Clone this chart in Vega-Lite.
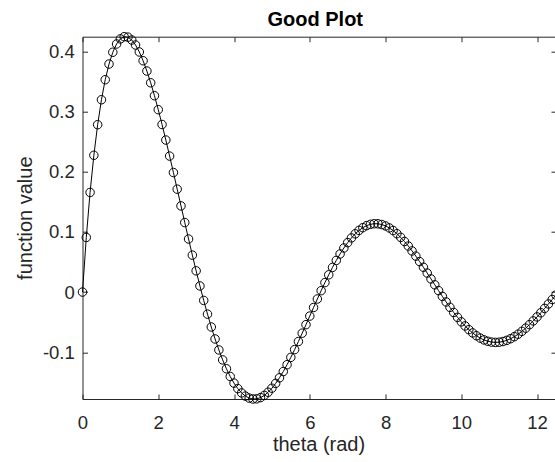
{
  "$schema": "https://vega.github.io/schema/vega-lite/v6.json",
  "autosize": "none",
  "width": 473.5,
  "height": 362.3,
  "padding": {"left": 82.5, "top": 36.7, "right": 0, "bottom": 63},
  "background": "white",
  "title": {"text": "Good Plot", "font": "Liberation Sans", "fontSize": 20, "fontWeight": "bold", "color": "#000000", "baseline": "alphabetic", "offset": -16, "dx": -4},
  "config": {
    "view": {"stroke": null},
    "axis": {
      "grid": false,
      "domainColor": "#262626",
      "domainWidth": 1,
      "tickColor": "#262626",
      "tickWidth": 1,
      "tickSize": -5,
      "labelFont": "Liberation Sans",
      "labelFontSize": 18.5,
      "labelColor": "#262626",
      "titleFont": "Liberation Sans",
      "titleFontSize": 20,
      "titleFontWeight": "normal",
      "titleColor": "#262626"
    }
  },
  "data": {"values": [
    {"theta": 0.0, "value": 0},
    {"theta": 0.1, "value": 0.09076},
    {"theta": 0.2, "value": 0.16556},
    {"theta": 0.3, "value": 0.22732},
    {"theta": 0.4, "value": 0.27816},
    {"theta": 0.5, "value": 0.31962},
    {"theta": 0.6, "value": 0.35290},
    {"theta": 0.7, "value": 0.37895},
    {"theta": 0.8, "value": 0.39853},
    {"theta": 0.9, "value": 0.41228},
    {"theta": 1.0, "value": 0.42074},
    {"theta": 1.1, "value": 0.42439},
    {"theta": 1.2, "value": 0.42365},
    {"theta": 1.3, "value": 0.41894},
    {"theta": 1.4, "value": 0.41060},
    {"theta": 1.5, "value": 0.39900},
    {"theta": 1.6, "value": 0.38445},
    {"theta": 1.7, "value": 0.36728},
    {"theta": 1.8, "value": 0.34780},
    {"theta": 1.9, "value": 0.32631},
    {"theta": 2.0, "value": 0.30310},
    {"theta": 2.1, "value": 0.27846},
    {"theta": 2.2, "value": 0.25266},
    {"theta": 2.3, "value": 0.22597},
    {"theta": 2.4, "value": 0.19866},
    {"theta": 2.5, "value": 0.17099},
    {"theta": 2.6, "value": 0.14319},
    {"theta": 2.7, "value": 0.11551},
    {"theta": 2.8, "value": 0.08815},
    {"theta": 2.9, "value": 0.06135},
    {"theta": 3.0, "value": 0.03528},
    {"theta": 3.1, "value": 0.01014},
    {"theta": 3.2, "value": -0.01390},
    {"theta": 3.3, "value": -0.03669},
    {"theta": 3.4, "value": -0.05808},
    {"theta": 3.5, "value": -0.07795},
    {"theta": 3.6, "value": -0.09620},
    {"theta": 3.7, "value": -0.11273},
    {"theta": 3.8, "value": -0.12747},
    {"theta": 3.9, "value": -0.14036},
    {"theta": 4.0, "value": -0.15136},
    {"theta": 4.1, "value": -0.16045},
    {"theta": 4.2, "value": -0.16761},
    {"theta": 4.3, "value": -0.17286},
    {"theta": 4.4, "value": -0.17622},
    {"theta": 4.5, "value": -0.17773},
    {"theta": 4.6, "value": -0.17744},
    {"theta": 4.7, "value": -0.17542},
    {"theta": 4.8, "value": -0.17175},
    {"theta": 4.9, "value": -0.16652},
    {"theta": 5.0, "value": -0.15982},
    {"theta": 5.1, "value": -0.15177},
    {"theta": 5.2, "value": -0.14249},
    {"theta": 5.3, "value": -0.13211},
    {"theta": 5.4, "value": -0.12074},
    {"theta": 5.5, "value": -0.10854},
    {"theta": 5.6, "value": -0.09565},
    {"theta": 5.7, "value": -0.08219},
    {"theta": 5.8, "value": -0.06832},
    {"theta": 5.9, "value": -0.05419},
    {"theta": 6.0, "value": -0.03992},
    {"theta": 6.1, "value": -0.02566},
    {"theta": 6.2, "value": -0.01154},
    {"theta": 6.3, "value": 0.00230},
    {"theta": 6.4, "value": 0.01575},
    {"theta": 6.5, "value": 0.02868},
    {"theta": 6.6, "value": 0.04099},
    {"theta": 6.7, "value": 0.05258},
    {"theta": 6.8, "value": 0.06335},
    {"theta": 6.9, "value": 0.07322},
    {"theta": 7.0, "value": 0.08212},
    {"theta": 7.1, "value": 0.09000},
    {"theta": 7.2, "value": 0.09679},
    {"theta": 7.3, "value": 0.10246},
    {"theta": 7.4, "value": 0.10699},
    {"theta": 7.5, "value": 0.11035},
    {"theta": 7.6, "value": 0.11255},
    {"theta": 7.7, "value": 0.11358},
    {"theta": 7.8, "value": 0.11347},
    {"theta": 7.9, "value": 0.11224},
    {"theta": 8.0, "value": 0.10993},
    {"theta": 8.1, "value": 0.10658},
    {"theta": 8.2, "value": 0.10225},
    {"theta": 8.3, "value": 0.09701},
    {"theta": 8.4, "value": 0.09091},
    {"theta": 8.5, "value": 0.08405},
    {"theta": 8.6, "value": 0.07650},
    {"theta": 8.7, "value": 0.06835},
    {"theta": 8.8, "value": 0.05968},
    {"theta": 8.9, "value": 0.05061},
    {"theta": 9.0, "value": 0.04121},
    {"theta": 9.1, "value": 0.03159},
    {"theta": 9.2, "value": 0.02185},
    {"theta": 9.3, "value": 0.01208},
    {"theta": 9.4, "value": 0.00238},
    {"theta": 9.5, "value": -0.00716},
    {"theta": 9.6, "value": -0.01645},
    {"theta": 9.7, "value": -0.02540},
    {"theta": 9.8, "value": -0.03393},
    {"theta": 9.9, "value": -0.04198},
    {"theta": 10.0, "value": -0.04946},
    {"theta": 10.1, "value": -0.05631},
    {"theta": 10.2, "value": -0.06249},
    {"theta": 10.3, "value": -0.06794},
    {"theta": 10.4, "value": -0.07262},
    {"theta": 10.5, "value": -0.07650},
    {"theta": 10.6, "value": -0.07955},
    {"theta": 10.7, "value": -0.08176},
    {"theta": 10.8, "value": -0.08313},
    {"theta": 10.9, "value": -0.08366},
    {"theta": 11.0, "value": -0.08333},
    {"theta": 11.1, "value": -0.08219},
    {"theta": 11.2, "value": -0.08025},
    {"theta": 11.3, "value": -0.07756},
    {"theta": 11.4, "value": -0.07416},
    {"theta": 11.5, "value": -0.07004},
    {"theta": 11.6, "value": -0.06530},
    {"theta": 11.7, "value": -0.06000},
    {"theta": 11.8, "value": -0.05418},
    {"theta": 11.9, "value": -0.04792},
    {"theta": 12.0, "value": -0.04127},
    {"theta": 12.1, "value": -0.03432},
    {"theta": 12.2, "value": -0.02714},
    {"theta": 12.3, "value": -0.01979},
    {"theta": 12.4, "value": -0.01236},
    {"theta": 12.5, "value": -0.00491}
  ]},
  "layer": [
    {
      "mark": {"type": "line", "color": "#000000", "strokeWidth": 1},
      "encoding": {
        "x": {"field": "theta", "type": "quantitative",
          "scale": {"domain": [0, 12.5], "nice": false, "zero": false},
          "axis": {"orient": "bottom", "values": [0, 2, 4, 6, 8, 10, 12], "title": "theta (rad)", "labelPadding": 19.7,
            "titleX": 236, "titleY": 51, "titleBaseline": "alphabetic", "titleAnchor": "middle", "labelFlush": false}},
        "y": {"field": "value", "type": "quantitative",
          "scale": {"domain": [-0.17773, 0.42439], "nice": false, "zero": false},
          "axis": {"orient": "left", "values": [-0.1, 0, 0.1, 0.2, 0.3, 0.4], "title": "function value", "labelPadding": 13.2,
            "labelExpr": "datum.value == 0 ? '0' : (datum.value < 0 ? '-' + format(-datum.value, '.1f') : format(datum.value, '.1f'))",
            "titleX": -51.5, "titleY": 181, "titleAngle": -90, "titleAlign": "center", "titleBaseline": "alphabetic", "labelFlush": false}}
      }
    },
    {
      "mark": {"type": "point", "shape": "circle", "filled": false, "stroke": "#000000", "strokeWidth": 1, "size": 72, "opacity": 1},
      "encoding": {
        "x": {"field": "theta", "type": "quantitative",
          "axis": {"orient": "top", "values": [0, 2, 4, 6, 8, 10, 12], "labels": false, "title": null}},
        "y": {"field": "value", "type": "quantitative",
          "axis": {"orient": "right", "values": [-0.1, 0, 0.1, 0.2, 0.3, 0.4], "labels": false, "title": null}}
      }
    }
  ],
  "resolve": {"axis": {"x": "independent", "y": "independent"}}
}
